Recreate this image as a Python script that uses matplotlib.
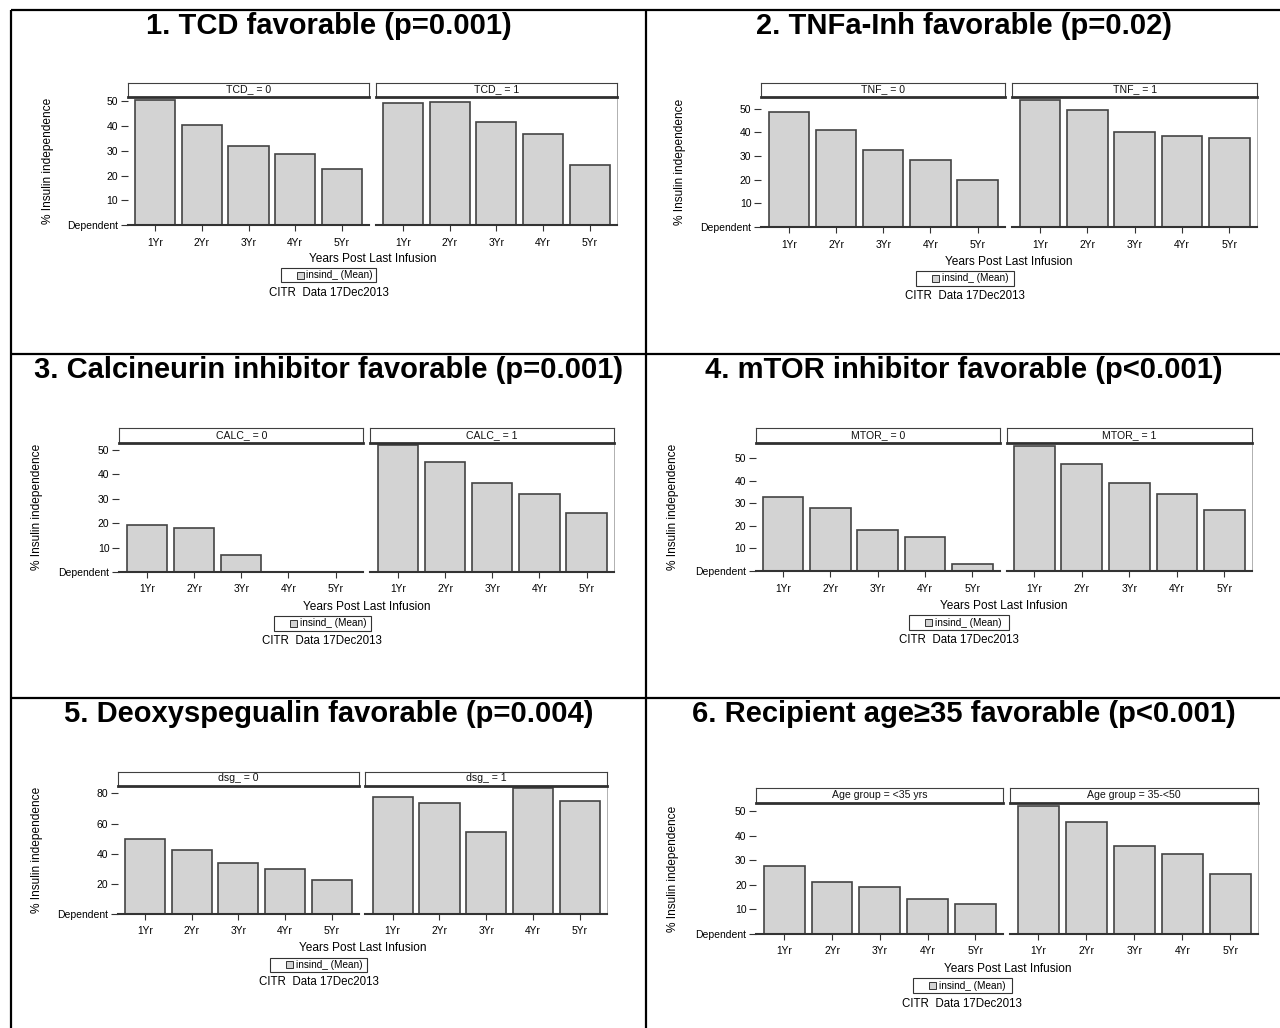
#!/usr/bin/env python3
"""Six-panel summary of insulin independence by years post last infusion.

Each cell holds a two-group bar panel (factor = 0 / 1), laid out in a
2 x 3 bordered grid with a bold heading per cell.
"""
import matplotlib.pyplot as plt
from matplotlib.patches import Rectangle

W, H = 1280, 1028
DPI = 100

YEARS = ["1Yr", "2Yr", "3Yr", "4Yr", "5Yr"]

TITLES = [
    "1. TCD favorable (p=0.001)",
    "2. TNFa-Inh favorable (p=0.02)",
    "3. Calcineurin inhibitor favorable (p=0.001)",
    "4. mTOR inhibitor favorable (p<0.001)",
    "5. Deoxyspegualin favorable (p=0.004)",
    "6. Recipient age\u226535 favorable (p<0.001)",
]

STRIPS = [
    ("TCD_ = 0", "TCD_ = 1"),
    ("TNF_ = 0", "TNF_ = 1"),
    ("CALC_ = 0", "CALC_ = 1"),
    ("MTOR_ = 0", "MTOR_ = 1"),
    ("dsg_ = 0", "dsg_ = 1"),
    ("Age group = <35 yrs", "Age group = 35-<50"),
]

# mean % insulin independent per year, group 0 then group 1
TCD_0 = [50.6, 40.6, 32.1, 28.6, 22.9]
TCD_1 = [49.4, 49.6, 41.5, 36.7, 24.2]
TNF_0 = [48.6, 41.0, 32.7, 28.3, 19.9]
TNF_1 = [53.8, 49.4, 40.1, 38.6, 37.6]
CALC_0 = [19.3, 18.2, 6.8, 0.0, 0.0]
CALC_1 = [51.9, 45.0, 36.3, 32.1, 24.2]
MTOR_0 = [32.7, 28.1, 18.0, 14.9, 3.1]
MTOR_1 = [55.6, 47.7, 39.0, 34.4, 27.2]
DSG_0 = [49.5, 42.7, 34.0, 29.8, 22.7]
DSG_1 = [77.5, 73.5, 54.7, 83.5, 75.3]
AGE_0 = [27.6, 21.2, 19.2, 14.3, 12.1]
AGE_1 = [52.1, 45.7, 35.9, 32.5, 24.5]

SERIES = [
    (TCD_0, TCD_1),
    (TNF_0, TNF_1),
    (CALC_0, CALC_1),
    (MTOR_0, MTOR_1),
    (DSG_0, DSG_1),
    (AGE_0, AGE_1),
]

YTICKS_STD = [0, 10, 20, 30, 40, 50]
YTICKS_DSG = [0, 20, 40, 60, 80]
YTICKS = [YTICKS_STD, YTICKS_STD, YTICKS_STD, YTICKS_STD, YTICKS_DSG, YTICKS_STD]

Y_LABEL = "% Insulin independence"
X_LABEL = "Years Post Last Infusion"
LEGEND_TEXT = "insind_ (Mean)"
FOOTNOTE = "CITR  Data 17Dec2013"

# pixel geometry of each embedded graph (left panel x, right panel x,
# strip top, plot top, baseline, y-label x, x-label y, legend box, footnote)
LAYOUT = [
    dict(L=(127.7, 369.3), R=(375.7, 617.0), st=82.7, top=97.3, base=225.3,
         ylx=47.7, xly=259.0, leg=(280.5, 268.3, 376.0, 282.3), foot=(329.0, 293.0)),
    dict(L=(761.2, 1005.3), R=(1012.2, 1257.1), st=82.7, top=97.3, base=227.0,
         ylx=679.6, xly=261.7, leg=(916.0, 270.7, 1014.0, 285.7), foot=(965.0, 296.0)),
    dict(L=(119.2, 363.3), R=(370.2, 614.3), st=428.3, top=442.7, base=572.0,
         ylx=36.7, xly=606.7, leg=(273.5, 615.7, 371.4, 630.7), foot=(322.4, 641.0)),
    dict(L=(755.5, 1000.0), R=(1006.5, 1252.2), st=427.7, top=443.3, base=571.0,
         ylx=672.7, xly=605.7, leg=(909.4, 615.0, 1008.6, 630.0), foot=(959.4, 640.0)),
    dict(L=(117.6, 359.2), R=(365.3, 607.3), st=771.7, top=785.7, base=914.0,
         ylx=36.7, xly=948.3, leg=(270.0, 957.7, 367.3, 971.7), foot=(318.8, 982.3)),
    dict(L=(756.3, 1003.3), R=(1010.2, 1258.4), st=788.3, top=803.3, base=933.7,
         ylx=672.7, xly=969.0, leg=(912.7, 978.3, 1012.2, 993.3), foot=(962.4, 1004.0)),
]

TITLE_POS = [(328.5, 34.0), (964.0, 34.0), (328.5, 378.5), (964.0, 378.5),
             (328.5, 722.5), (964.0, 722.5)]

BAR_FILL = "#d3d3d3"
BAR_EDGE = "#444444"
AXIS_COLOR = "#333333"
FONT = ["Liberation Sans", "DejaVu Sans"]


def px_rect(x0, y0, x1, y1):
    return [x0 / W, 1 - y1 / H, (x1 - x0) / W, (y1 - y0) / H]


def draw_panel(fig, xs, lay, values, strip, yticks, ymax, first):
    x0, x1 = xs
    ax = fig.add_axes(px_rect(x0, lay["top"], x1, lay["base"]))
    pos = list(range(1, len(YEARS) + 1))
    ax.bar(pos, values, width=0.857, color=BAR_FILL, edgecolor=BAR_EDGE,
           linewidth=1.2, zorder=2)
    ax.set_xlim(0.415, len(YEARS) + 0.585)
    ax.set_ylim(0, ymax)
    for side in ("left", "top", "right"):
        ax.spines[side].set_visible(False)
    ax.spines["bottom"].set_color(AXIS_COLOR)
    ax.spines["bottom"].set_linewidth(1.5)
    if not first:
        ax.spines["right"].set_visible(True)
        ax.spines["right"].set_color("#b0b0b0")
        ax.spines["right"].set_linewidth(0.7)
    ax.set_xticks(pos)
    ax.set_xticklabels(YEARS, family=FONT, fontsize=7.4)
    ax.tick_params(axis="x", length=4, width=0.8, color=AXIS_COLOR, pad=5)
    if first:
        ax.set_yticks(yticks)
        ax.set_yticklabels(["Dependent"] + [str(t) for t in yticks[1:]],
                           family=FONT, fontsize=7.5)
        ax.tick_params(axis="y", length=5, width=0.8, color=AXIS_COLOR, pad=2)
    else:
        ax.set_yticks([])

    sax = fig.add_axes(px_rect(x0, lay["st"], x1, lay["top"]))
    sax.set_xticks([])
    sax.set_yticks([])
    for side in ("left", "top", "right"):
        sax.spines[side].set_color("#404040")
        sax.spines[side].set_linewidth(0.8)
    sax.spines["bottom"].set_color("#303030")
    sax.spines["bottom"].set_linewidth(2.0)
    sax.text(0.5, 0.55, strip, transform=sax.transAxes, ha="center",
             va="center", family=FONT, fontsize=7.6, color="#111111")


def main():
    fig = plt.figure(figsize=(W / DPI, H / DPI), dpi=DPI)
    bg = fig.add_axes([0, 0, 1, 1])
    bg.set_xlim(0, W)
    bg.set_ylim(H, 0)
    bg.axis("off")

    # table grid
    grid_kw = dict(color="black", linewidth=1.6, solid_capstyle="butt")
    bg.plot([11, 11], [10, H], **grid_kw)
    bg.plot([646, 646], [10, H], **grid_kw)
    for y in (10, 354, 698):
        bg.plot([11, W], [y, y], **grid_kw)

    for i, lay in enumerate(LAYOUT):
        tx, ty = TITLE_POS[i]
        bg.text(tx, ty, TITLES[i], ha="center", va="baseline",
                family=FONT, fontweight="bold", fontsize=21)

        g0, g1 = SERIES[i]
        ymax = max(g0 + g1) * 1.02
        draw_panel(fig, lay["L"], lay, g0, STRIPS[i][0], YTICKS[i], ymax, True)
        draw_panel(fig, lay["R"], lay, g1, STRIPS[i][1], YTICKS[i], ymax, False)

        yc = (lay["top"] + lay["base"]) / 2
        bg.text(lay["ylx"], yc, Y_LABEL, rotation=90, ha="center",
                va="center", family=FONT, fontsize=8.6)
        xc = (lay["L"][0] + lay["R"][1]) / 2
        bg.text(xc, lay["xly"], X_LABEL, ha="center", va="center",
                family=FONT, fontsize=8.6)

        lx0, ly0, lx1, ly1 = lay["leg"]
        bg.add_patch(Rectangle((lx0, ly0), lx1 - lx0, ly1 - ly0,
                               facecolor="white", edgecolor=AXIS_COLOR,
                               linewidth=0.8))
        lyc = (ly0 + ly1) / 2
        bg.add_patch(Rectangle((lx0 + 16, lyc - 3.5), 7, 7, facecolor=BAR_FILL,
                               edgecolor=AXIS_COLOR, linewidth=0.7))
        bg.text(lx0 + 26, lyc, LEGEND_TEXT, ha="left", va="center",
                family=FONT, fontsize=7.2)

        fx, fy = lay["foot"]
        bg.text(fx, fy, FOOTNOTE, ha="center", va="center",
                family=FONT, fontsize=8.3)

    fig.savefig("out.png", dpi=DPI)
    plt.close(fig)


if __name__ == "__main__":
    main()
